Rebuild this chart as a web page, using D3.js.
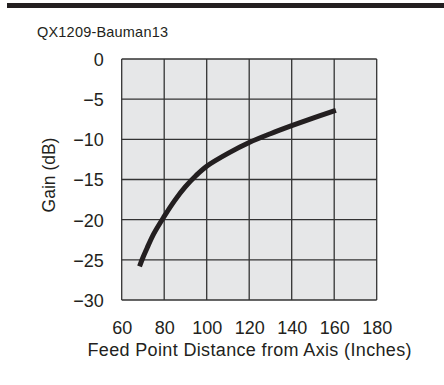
<!DOCTYPE html>
<html>
<head>
<meta charset="utf-8">
<script src="https://cdn.jsdelivr.net/npm/d3@7"></script>
<style>
  html, body { margin: 0; padding: 0; background: #fff; }
  svg text { font-family: "Liberation Sans", Arial, Helvetica, sans-serif; fill: #231f20; }
</style>
</head>
<body>
<svg id="chart" width="444" height="385"></svg>
<script>
// Gain versus feed point distance from the dish axis
const distance = [68.4, 70, 72, 75, 80, 85, 90, 95, 100, 110, 120, 130, 140, 150, 160, 160.8];
const gain     = [-25.8, -24.7, -23.5, -21.8, -19.6, -17.6, -15.9, -14.5, -13.35, -11.75, -10.4, -9.3, -8.3, -7.35, -6.45, -6.38];

const xTicks = [60, 80, 100, 120, 140, 160, 180];
const yTicks = [0, -5, -10, -15, -20, -25, -30];

const titleText = "QX1209-Bauman13";
const xLabel = "Feed Point Distance from Axis (Inches)";
const yLabel = "Gain (dB)";

const svg = d3.select("#chart");
const plotLeft = 121.7, plotRight = 376.7, plotTop = 59, plotBottom = 300;

const x = d3.scaleLinear().domain([60, 180]).range([plotLeft, plotRight]);
const y = d3.scaleLinear().domain([-30, 0]).range([plotBottom, plotTop]);

// header rule
svg.append("rect").attr("x", 7).attr("y", 3).attr("width", 437).attr("height", 5).attr("fill", "#231f20");

svg.append("text").attr("x", 37).attr("y", 37)
  .attr("font-size", 14.5).attr("letter-spacing", 0.2).text(titleText);

// plot background
svg.append("rect").attr("x", plotLeft).attr("y", plotTop)
  .attr("width", plotRight - plotLeft).attr("height", plotBottom - plotTop)
  .attr("fill", "#e6e7e8");

// grid
const grid = svg.append("g").attr("stroke", "#333").attr("stroke-width", 1.3);
grid.selectAll("line.v").data(xTicks).join("line").attr("class", "v")
  .attr("x1", d => x(d)).attr("x2", d => x(d)).attr("y1", plotTop).attr("y2", plotBottom);
grid.selectAll("line.h").data(yTicks).join("line").attr("class", "h")
  .attr("y1", d => y(d)).attr("y2", d => y(d)).attr("x1", plotLeft).attr("x2", plotRight);

// axes (labels only)
const xAxis = svg.append("g").attr("transform", `translate(0,${plotBottom})`)
  .call(d3.axisBottom(x).tickValues(xTicks).tickSize(0).tickPadding(18));
const yAxis = svg.append("g").attr("transform", `translate(${plotLeft},0)`)
  .call(d3.axisLeft(y).tickValues(yTicks).tickSize(0).tickPadding(18));
[xAxis, yAxis].forEach(g => {
  g.select(".domain").remove();
  g.attr("font-family", null).attr("font-size", null);
  g.selectAll("text").attr("font-size", 18).attr("fill", "#231f20");
});
xAxis.selectAll("text").attr("dy", null).attr("y", 33.5);
yAxis.selectAll("text").attr("dy", "0.36em");

// curve
const line = d3.line()
  .x((d, i) => x(distance[i]))
  .y(d => y(d))
  .curve(d3.curveCatmullRom.alpha(0.5));
svg.append("path").datum(gain)
  .attr("d", line)
  .attr("fill", "none")
  .attr("stroke", "#231f20")
  .attr("stroke-width", 5);

// axis titles
svg.append("text").attr("x", (plotLeft + plotRight) / 2 + 0.5).attr("y", 356)
  .attr("text-anchor", "middle").attr("font-size", 18).attr("letter-spacing", 0.35)
  .text(xLabel);
svg.append("text").attr("transform", "translate(55,175) rotate(-90)")
  .attr("text-anchor", "middle").attr("font-size", 17.5)
  .text(yLabel);
</script>
</body>
</html>
